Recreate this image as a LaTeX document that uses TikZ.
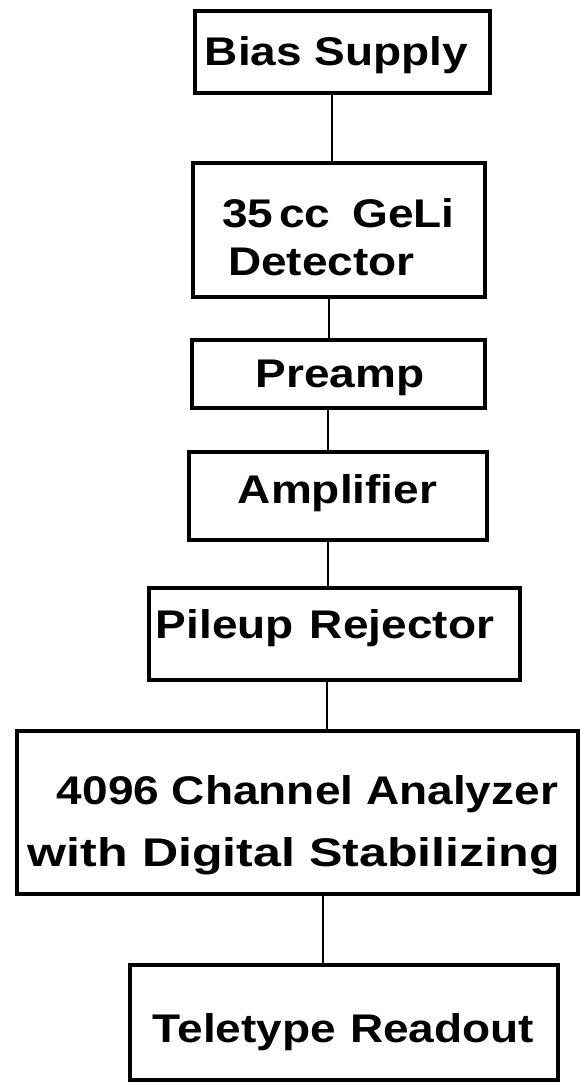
\documentclass[tikz,border=0pt]{standalone}
\usepackage{fontspec}
\setmainfont{Liberation Sans}[FakeStretch=1.15]
\begin{document}
\begin{tikzpicture}[x=1pt,y=-1pt,
  box/.style={draw=black,line width=3.2pt,rectangle,inner sep=0pt},
  wire/.style={draw=black,line width=2.4pt},
  lbl/.style={anchor=base,inner sep=0pt,font=\fontsize{40}{48}\selectfont\bfseries}]
\useasboundingbox (0,0) rectangle (580,1082);
% boxes
\node[box,minimum width=295pt,minimum height=82pt]  (bias) at (342.5,52)   {};
\node[box,minimum width=292pt,minimum height=134pt] (det)  at (339,230)    {};
\node[box,minimum width=293pt,minimum height=68pt]  (pre)  at (338.5,374)  {};
\node[box,minimum width=298pt,minimum height=88pt]  (amp)  at (338,496)    {};
\node[box,minimum width=371pt,minimum height=92pt]  (pile) at (334.5,634)  {};
\node[box,minimum width=561pt,minimum height=163pt] (ana)  at (297.5,812.5){};
\node[box,minimum width=428pt,minimum height=115pt] (tty)  at (344,1022.5) {};
% labels
\node[lbl] (tbias) at (336.5,65) {Bias Supply};
\node[lbl,anchor=base west] (tdet1) at (222,227) {35\hspace{6pt}cc\hspace{22pt}GeLi};
\node[lbl,anchor=base west] (tdet2) at (228,275) {Detector};
\node[lbl] (tpre) at (340,387) {Preamp};
\node[lbl] (tamp) at (337.5,503) {Amplifier};
\node[lbl] (tpile) at (325,638) {Pileup\hspace{16pt}Rejector};
\node[lbl] (tana1) at (307.5,804) {4096 Channel Analyzer};
\node[lbl] (tana2) at (294,866) {\scalebox{1.09}[1]{with Digital Stabilizing}};
\node[lbl] (ttty) at (343.5,1042) {Teletype\hspace{14pt}Readout};
% connector positions
\coordinate (k1) at (332,0);
\coordinate (k2) at (329,0);
\coordinate (k3) at (328,0);
\coordinate (k4) at (328,0);
\coordinate (k5) at (327,0);
\coordinate (k6) at (323,0);
\draw[wire] (bias.south -| k1) -- (det.north -| k1);
\draw[wire] (det.south -| k2) -- (pre.north -| k2);
\draw[wire] (pre.south -| k3) -- (amp.north -| k3);
\draw[wire] (amp.south -| k4) -- (pile.north -| k4);
\draw[wire] (pile.south -| k5) -- (ana.north -| k5);
\draw[wire] (ana.south -| k6) -- (tty.north -| k6);
\end{tikzpicture}
\end{document}
